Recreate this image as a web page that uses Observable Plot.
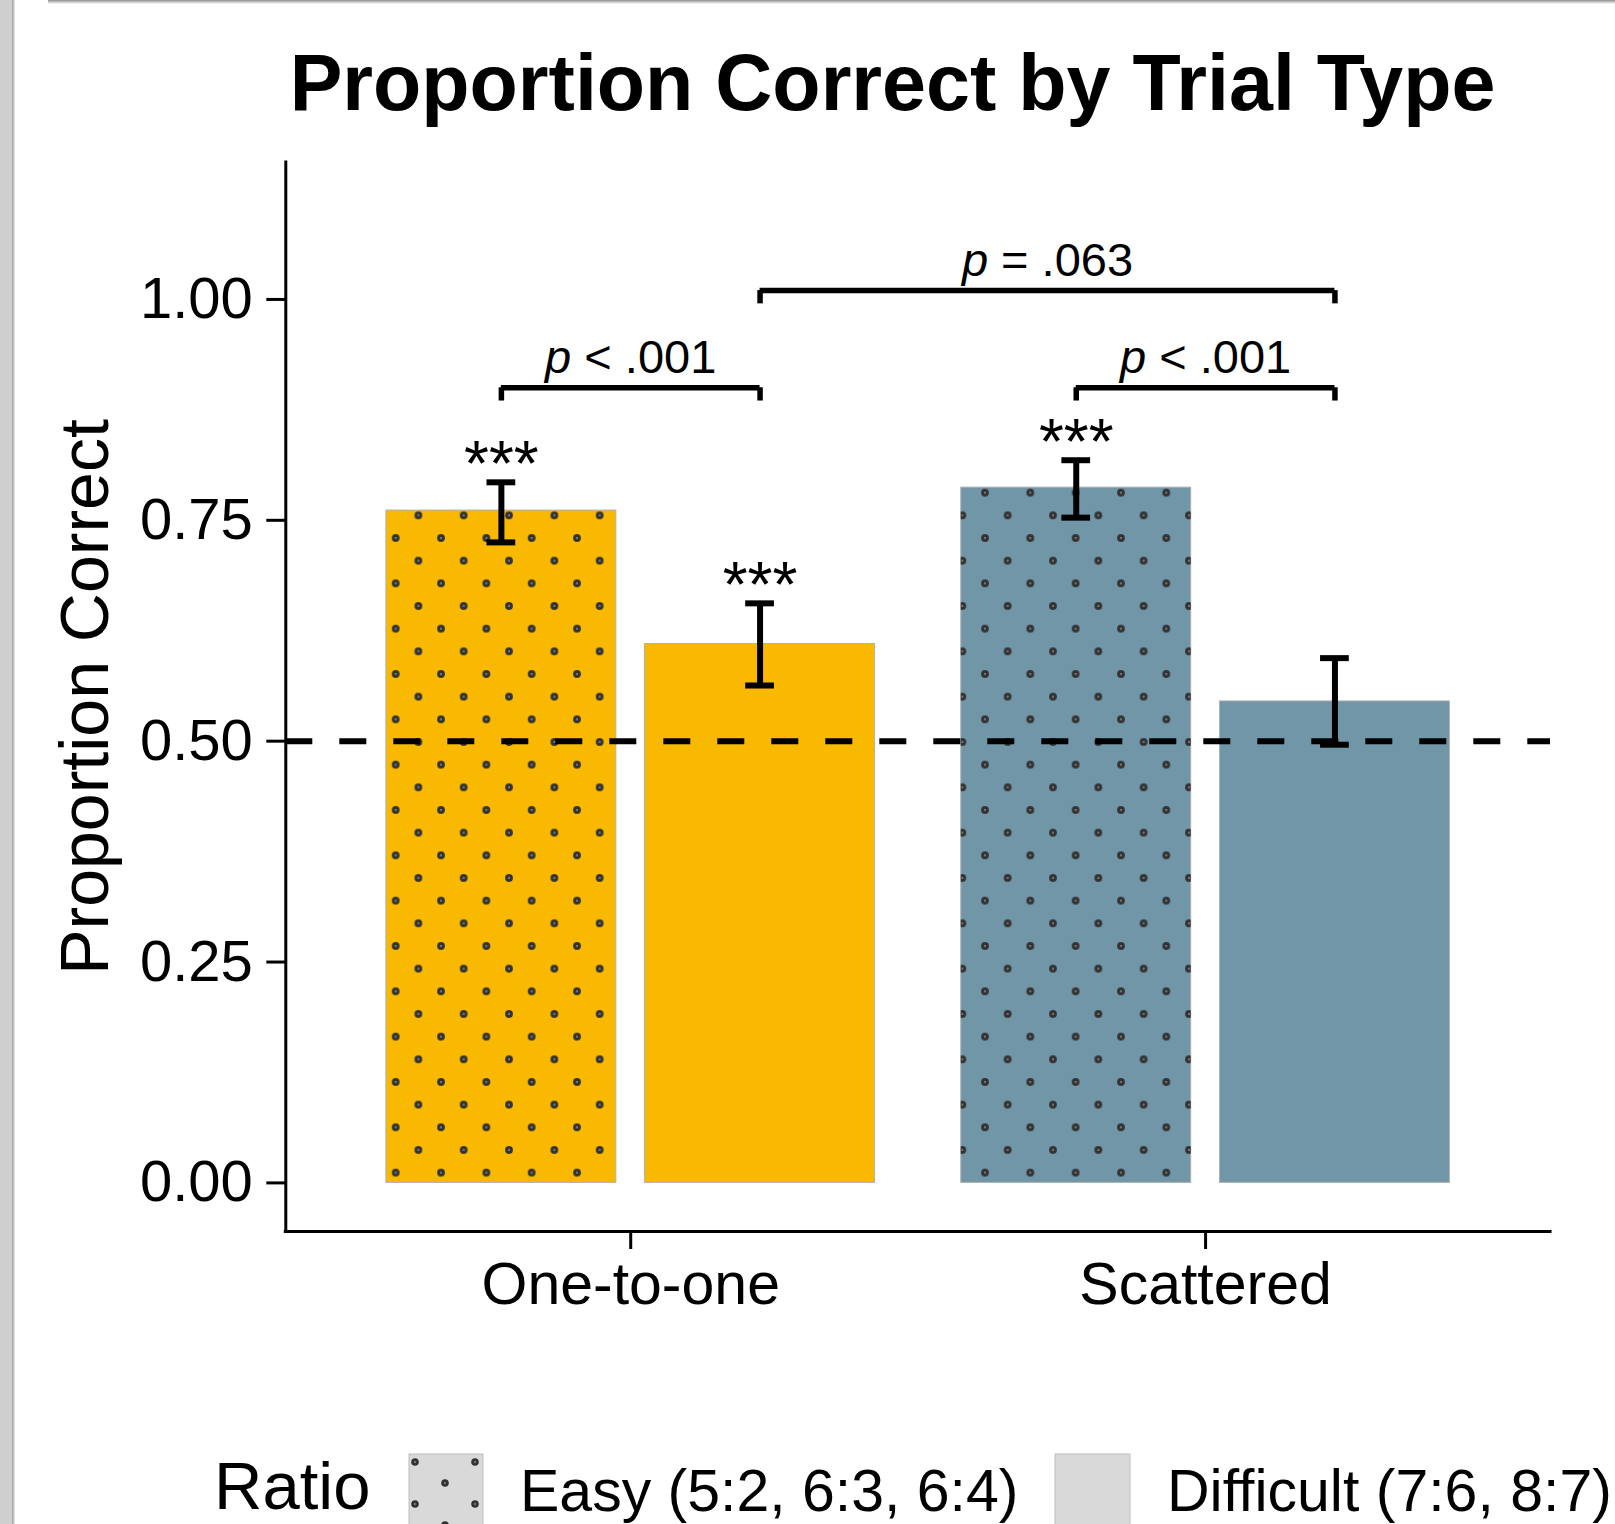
<!DOCTYPE html>
<html>
<head>
<meta charset="utf-8">
<script src="https://cdn.jsdelivr.net/npm/d3@7"></script>
<script src="https://cdn.jsdelivr.net/npm/@observablehq/plot@0.6"></script>
<style>
  html, body { margin: 0; padding: 0; background: #fff; }
  body { width: 1615px; height: 1524px; position: relative; overflow: hidden; font-family: "Liberation Sans", Arial, sans-serif; }
  #leftstrip { position: absolute; left: 0; top: 0; width: 12px; height: 1524px; background: #cfcfcf; }
  #leftedge { position: absolute; left: 12px; top: 0; width: 3px; height: 1524px; background: linear-gradient(to right, #9c9c9c, #ececec); }
  #topshadow { position: absolute; left: 48px; top: 0; right: 0; height: 4px; background: linear-gradient(to bottom, #8e8e8e, #ffffff); }
  #chart { position: absolute; left: 0; top: 140px; }
  #overlay { position: absolute; left: 0; top: 0; }
</style>
</head>
<body>
<div id="leftstrip"></div>
<div id="leftedge"></div>
<div id="topshadow"></div>
<div id="chart"></div>
<svg id="overlay" width="1615" height="1524"></svg>
<script>
// ---------------- data ----------------
const chartTitle = "Proportion Correct by Trial Type";
const yLabel = "Proportion Correct";
const trialTypes = ["One-to-one", "Scattered"];
const ratioKeys = ["Easy", "Difficult"];
const ratioLabels = ["Easy (5:2, 6:3, 6:4)", "Difficult (7:6, 8:7)"];
const legendTitle = "Ratio";
const barTrial = ["One-to-one", "One-to-one", "Scattered", "Scattered"];
const barRatio = ["Easy", "Difficult", "Easy", "Difficult"];
const meanCorrect = [0.761, 0.610, 0.787, 0.545];
const ciLower = [0.725, 0.563, 0.753, 0.496];
const ciUpper = [0.793, 0.656, 0.818, 0.594];
const sigLabels = ["***", "***", "***", ""];
const yTicks = [0, 0.25, 0.5, 0.75, 1];
const chanceLevel = 0.5;
const bracketLabels = ["p < .001", "p < .001", "p = .063"];
const bracketFrom = [0, 2, 1];
const bracketTo = [1, 3, 3];
const bracketY = [0.90, 0.90, 1.01];
const trialColors = ["#F9B900", "#7196A8"];

// ---------------- layout params ----------------
const dodge = 0.225, barHalf = 0.2, capHalf = 0.025, tip = 0.015;
const yDomain = [-0.055, 1.155];
const xDomain = [0.4, 2.6];

const bars = barTrial.map((t, i) => {
  const g = trialTypes.indexOf(t) + 1;
  const pos = g + (barRatio[i] === "Easy" ? -dodge : dodge);
  return {trial: t, ratio: barRatio[i], pos, x1: pos - barHalf, x2: pos + barHalf,
          mean: meanCorrect[i], lo: ciLower[i], hi: ciUpper[i], sig: sigLabels[i]};
});
const brackets = bracketLabels.map((lab, i) => ({
  label: lab, x1: bars[bracketFrom[i]].pos, x2: bars[bracketTo[i]].pos, y: bracketY[i]
}));
const bracketEnds = brackets.flatMap(b => [{x: b.x1, y: b.y}, {x: b.x2, y: b.y}]);

const color = t => trialColors[trialTypes.indexOf(t)];
const FONT = "'Liberation Sans', Arial, Helvetica, sans-serif";

const chart = Plot.plot({
  width: 1615,
  height: 1200,
  marginTop: 22,
  marginBottom: 109,
  marginLeft: 285.3,
  marginRight: 65,
  style: {fontFamily: FONT, background: "transparent", color: "black", overflow: "visible"},
  x: {type: "linear", domain: xDomain},
  y: {domain: yDomain},
  marks: [
    Plot.rectY(bars, {x1: "x1", x2: "x2", y1: 0, y2: "mean", fill: d => color(d.trial), stroke: "#b0b0b0", strokeWidth: 1}),
    Plot.rectY(bars.filter(d => d.ratio === "Easy"), {x1: "x1", x2: "x2", y1: 0, y2: "mean", fill: "url(#dotpat)"}),
    Plot.ruleY([chanceLevel], {stroke: "black", strokeWidth: 6, strokeDasharray: "27,27"}),
    Plot.ruleX(bars, {x: "pos", y1: "lo", y2: "hi", stroke: "black", strokeWidth: 6}),
    Plot.ruleY(bars, {y: "hi", x1: d => d.pos - capHalf, x2: d => d.pos + capHalf, stroke: "black", strokeWidth: 6}),
    Plot.ruleY(bars, {y: "lo", x1: d => d.pos - capHalf, x2: d => d.pos + capHalf, stroke: "black", strokeWidth: 6}),
    Plot.text(bars, {x: "pos", y: "hi", text: "sig", fontSize: 64, lineAnchor: "bottom", dy: 4, fill: "black"}),
    Plot.ruleY(brackets, {y: "y", x1: "x1", x2: "x2", stroke: "black", strokeWidth: 5.5}),
    Plot.ruleX(bracketEnds, {x: "x", y1: d => d.y - tip, y2: "y", stroke: "black", strokeWidth: 5.5}),
    Plot.text(brackets, {x: d => (d.x1 + d.x2) / 2, y: "y", text: "label", fontSize: 47, lineAnchor: "bottom", dy: -15, fill: "black", className: "plabel"}),
    Plot.ruleX([xDomain[0]], {y1: yDomain[0], y2: yDomain[1], stroke: "black", strokeWidth: 3, strokeLinecap: "square"}),
    Plot.ruleY([yDomain[0]], {x1: xDomain[0], x2: xDomain[1], stroke: "black", strokeWidth: 3, strokeLinecap: "square"}),
    Plot.axisY({ticks: yTicks, tickFormat: d3.format(".2f"), tickSize: 19, tickPadding: 14, fontSize: 58, strokeWidth: 3, label: null}),
    Plot.axisX({ticks: [1, 2], tickFormat: i => trialTypes[i - 1], tickSize: 18, tickPadding: 13, fontSize: 59, strokeWidth: 3, label: null}),
    Plot.text([yLabel], {x: xDomain[0], y: (yDomain[0] + yDomain[1]) / 2, rotate: -90, dx: -178, lineAnchor: "bottom", textAnchor: "middle", fontSize: 68, fill: "black"})
  ]
});

// pattern defs for dotted (Easy) bars
const NS = "http://www.w3.org/2000/svg";
function makeDotPattern(id, x, y, w, h, r) {
  const pat = document.createElementNS(NS, "pattern");
  pat.setAttribute("id", id);
  pat.setAttribute("patternUnits", "userSpaceOnUse");
  pat.setAttribute("x", x); pat.setAttribute("y", y);
  pat.setAttribute("width", w); pat.setAttribute("height", h);
  const pts = [[0, 0], [w, 0], [0, h], [w, h], [w / 2, h / 2]];
  for (const [cx, cy] of pts) {
    const c = document.createElementNS(NS, "circle");
    c.setAttribute("cx", cx); c.setAttribute("cy", cy); c.setAttribute("r", r);
    c.setAttribute("fill", "#333333");
    pat.appendChild(c);
    const c2 = document.createElementNS(NS, "circle");
    c2.setAttribute("cx", cx); c2.setAttribute("cy", cy); c2.setAttribute("r", 1);
    c2.setAttribute("fill", "#8a8a8a");
    pat.appendChild(c2);
  }
  return pat;
}
const defs = document.createElementNS(NS, "defs");
defs.appendChild(makeDotPattern("dotpat", 395.7 % 45.33, (1127.3 - 140) % 45.33, 45.33, 45.33, 3.9));
chart.insertBefore(defs, chart.firstChild);

// italic "p" in p-value labels
chart.querySelectorAll(".plabel text").forEach(t => {
  const s = t.textContent;
  if (!s.startsWith("p")) return;
  t.textContent = "";
  const a = document.createElementNS(NS, "tspan");
  a.setAttribute("font-style", "italic");
  a.textContent = "p";
  t.appendChild(a);
  t.appendChild(document.createTextNode(s.slice(1)));
});

document.getElementById("chart").appendChild(chart);

// ---------------- title & legend overlay ----------------
const ov = document.getElementById("overlay");
const odefs = document.createElementNS(NS, "defs");
odefs.appendChild(makeDotPattern("keypat", 415, 1462, 60, 42, 3.8));
ov.appendChild(odefs);
function txt(s, x, y, size, weight, anchor) {
  const t = document.createElementNS(NS, "text");
  t.setAttribute("x", x); t.setAttribute("y", y);
  t.setAttribute("font-size", size);
  t.setAttribute("font-family", FONT);
  if (weight) t.setAttribute("font-weight", weight);
  if (anchor) t.setAttribute("text-anchor", anchor);
  t.setAttribute("fill", "black");
  t.textContent = s;
  ov.appendChild(t);
}
function rect(x, y, w, h, fill, stroke) {
  const r = document.createElementNS(NS, "rect");
  r.setAttribute("x", x); r.setAttribute("y", y);
  r.setAttribute("width", w); r.setAttribute("height", h);
  r.setAttribute("fill", fill);
  if (stroke) { r.setAttribute("stroke", stroke); r.setAttribute("stroke-width", 1); }
  ov.appendChild(r);
}
txt(chartTitle, 892.5, 110, 79, "bold", "middle");
txt(legendTitle, 214, 1509, 67);
rect(409, 1454, 74, 80, "#d9d9d9", "#bdbdbd");
rect(409, 1454, 74, 80, "url(#keypat)");
txt(ratioLabels[0], 520, 1511, 59);
rect(1055, 1454, 75, 80, "#d9d9d9", "#bdbdbd");
txt(ratioLabels[1], 1167, 1511, 59);
</script>
</body>
</html>
